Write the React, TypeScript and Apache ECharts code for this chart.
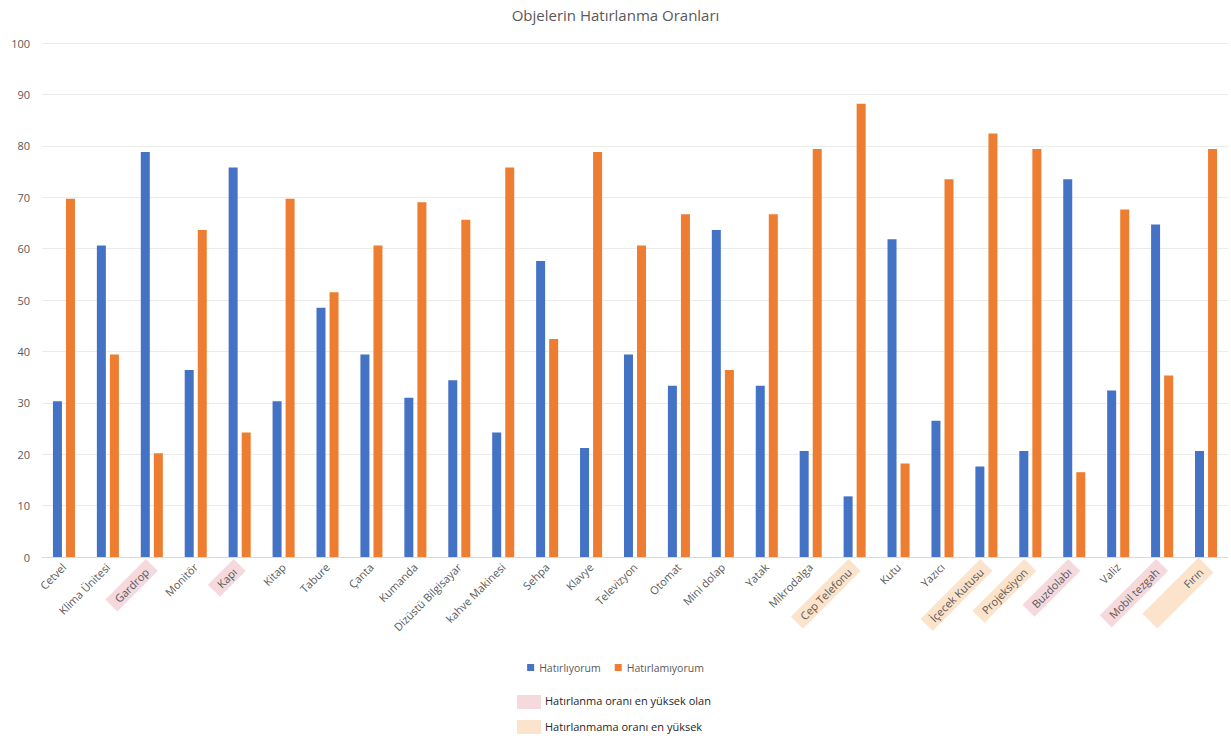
import React, { useEffect, useRef } from "react";
import * as echarts from "echarts";

const categories = [
  "Cetvel", "Klima Ünitesi", "Gardrop", "Monitör", "Kapı", "Kitap", "Tabure", "Çanta",
  "Kumanda", "Dizüstü Bilgisayar", "kahve Makinesi", "Sehpa", "Klavye", "Televizyon",
  "Otomat", "Mini dolap", "Yatak", "Mikrodalga", "Cep Telefonu", "Kutu", "Yazıcı",
  "İçecek Kutusu", "Projeksiyon", "Buzdolabı", "Valiz", "Mobil tezgah", "Fırın",
];

const hatirliyorum = [
  30.3, 60.6, 78.8, 36.4, 75.8, 30.3, 48.5, 39.4, 31.0, 34.4, 24.2, 57.6, 21.2, 39.4,
  33.3, 63.6, 33.3, 20.6, 11.8, 61.8, 26.5, 17.6, 20.6, 73.5, 32.4, 64.7, 20.6,
];

const hatirlamiyorum = [
  69.7, 39.4, 20.2, 63.6, 24.2, 69.7, 51.5, 60.6, 69.0, 65.6, 75.8, 42.4, 78.8, 60.6,
  66.7, 36.4, 66.7, 79.4, 88.2, 18.2, 73.5, 82.4, 79.4, 16.5, 67.6, 35.3, 79.4,
];

// categories highlighted in the axis labels
const enCokHatirlanan = ["Gardrop", "Kapı", "Buzdolabı", "Mobil tezgah"];
const enCokUnutulan = ["Cep Telefonu", "İçecek Kutusu", "Projeksiyon", "Fırın"];

const seriesNames = ["Hatırlıyorum", "Hatırlamıyorum"];
const noteTexts = ["Hatırlanma oranı en yüksek olan", "Hatırlanmama oranı en yüksek"];

const BLUE = "#4472C4";
const ORANGE = "#ED7D31";
const PINK = "#F6D9DD";
const PEACH = "#FCE4CC";
const TEXT = "#595959";
const FONT = "'Open Sans', 'Noto Sans', sans-serif";

export default function App() {
  const ref = useRef<HTMLDivElement>(null);

  useEffect(() => {
    if (!ref.current) return;
    const chart = echarts.init(ref.current, undefined, { renderer: "svg" });

    const labelBase = { fontSize: 11, color: TEXT, fontFamily: FONT };

    chart.setOption({
      animation: false,
      backgroundColor: "#ffffff",
      title: {
        text: "Objelerin Hatırlanma Oranları",
        left: "center",
        top: 2,
        textStyle: { fontSize: 15, fontWeight: "normal", color: TEXT, fontFamily: FONT },
      },
      legend: {
        data: seriesNames,
        top: 657,
        left: "center",
        itemWidth: 7,
        itemHeight: 7,
        itemGap: 14,
        icon: "rect",
        textStyle: { fontSize: 10.5, color: TEXT, fontFamily: FONT },
      },
      grid: { left: 42, right: 3, top: 43, bottom: 182 },
      xAxis: {
        type: "category",
        data: categories,
        axisTick: { show: false },
        axisLine: { lineStyle: { color: "#D9D9D9" } },
        axisLabel: {
          interval: 0,
          rotate: 45,
          margin: 8,
          ...labelBase,
          formatter: (v: string) => {
            if (enCokHatirlanan.includes(v)) return `{pink|${v}}`;
            if (v === "Fırın") return `{peachWide|${v}}`;
            if (enCokUnutulan.includes(v)) return `{peach|${v}}`;
            return v;
          },
          rich: {
            pink: { ...labelBase, backgroundColor: PINK, padding: [3, 7, 3, 7] },
            peach: { ...labelBase, backgroundColor: PEACH, padding: [3, 7, 3, 7] },
            peachWide: { ...labelBase, backgroundColor: PEACH, padding: [5, 7, 5, 50] },
          },
        },
      },
      yAxis: {
        type: "value",
        min: 0,
        max: 100,
        interval: 10,
        axisLine: { show: false },
        axisTick: { show: false },
        axisLabel: { ...labelBase, margin: 12 },
        splitLine: { lineStyle: { color: "#EBEBEB" } },
      },
      series: [
        {
          name: seriesNames[0],
          type: "bar",
          data: hatirliyorum,
          barWidth: 9,
          barGap: "45%",
          itemStyle: { color: BLUE },
        },
        {
          name: seriesNames[1],
          type: "bar",
          data: hatirlamiyorum,
          barWidth: 9,
          barGap: "45%",
          itemStyle: { color: ORANGE },
        },
      ],
      graphic: [
        { type: "rect", left: 517, top: 695, shape: { width: 24, height: 14 }, style: { fill: PINK } },
        {
          type: "text", left: 545, top: 695,
          style: { text: noteTexts[0], fontSize: 11, fill: "#262626", fontFamily: FONT },
        },
        { type: "rect", left: 517, top: 720, shape: { width: 24, height: 14 }, style: { fill: PEACH } },
        {
          type: "text", left: 545, top: 721,
          style: { text: noteTexts[1], fontSize: 11, fill: "#262626", fontFamily: FONT },
        },
      ],
    });

    return () => chart.dispose();
  }, []);

  return (
    <div
      ref={ref}
      style={{ position: "fixed", left: 0, top: 0, width: 1231, height: 739, background: "#fff" }}
    />
  );
}
